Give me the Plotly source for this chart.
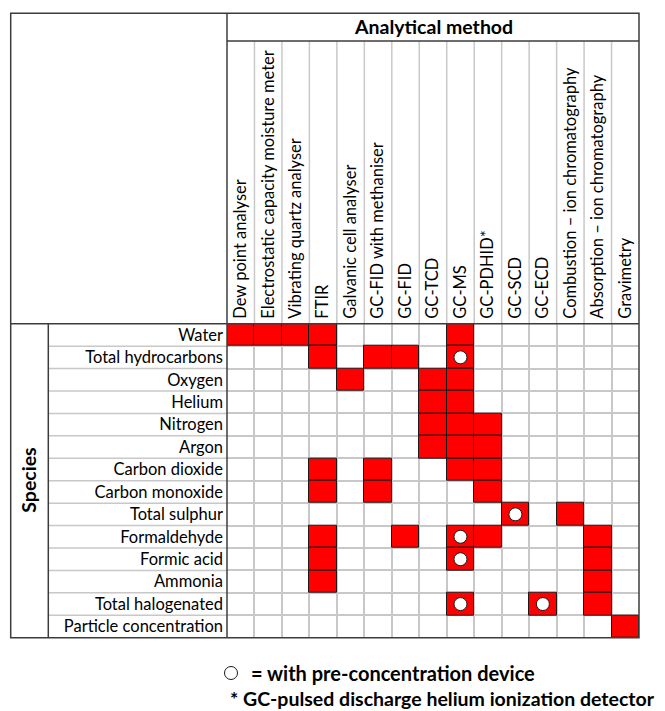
import plotly.graph_objects as go

# page body has an 8px margin; figure is sized so that it fills the window
OFF = 8
W, H = 665 - OFF, 711 - OFF

methods = [
    "Dew point analyser",
    "Electrostatic capacity moisture meter",
    "Vibrating quartz analyser",
    "FTIR",
    "Galvanic cell analyser",
    "GC-FID with methaniser",
    "GC-FID",
    "GC-TCD",
    "GC-MS",
    "GC-PDHID*",
    "GC-SCD",
    "GC-ECD",
    "Combustion \u2013 ion chromatography",
    "Absorption \u2013 ion chromatography",
    "Gravimetry",
]

species = [
    "Water",
    "Total hydrocarbons",
    "Oxygen",
    "Helium",
    "Nitrogen",
    "Argon",
    "Carbon dioxide",
    "Carbon monoxide",
    "Total sulphur",
    "Formaldehyde",
    "Formic acid",
    "Ammonia",
    "Total halogenated",
    "Particle concentration",
]

# applicable methods per species
applicable = {
    "Water": ["Dew point analyser", "Electrostatic capacity moisture meter",
              "Vibrating quartz analyser", "FTIR", "GC-MS"],
    "Total hydrocarbons": ["FTIR", "GC-FID with methaniser", "GC-FID", "GC-MS"],
    "Oxygen": ["Galvanic cell analyser", "GC-TCD", "GC-MS"],
    "Helium": ["GC-TCD", "GC-MS"],
    "Nitrogen": ["GC-TCD", "GC-MS", "GC-PDHID*"],
    "Argon": ["GC-TCD", "GC-MS", "GC-PDHID*"],
    "Carbon dioxide": ["FTIR", "GC-FID with methaniser", "GC-MS", "GC-PDHID*"],
    "Carbon monoxide": ["FTIR", "GC-FID with methaniser", "GC-PDHID*"],
    "Total sulphur": ["GC-SCD", "Combustion \u2013 ion chromatography"],
    "Formaldehyde": ["FTIR", "GC-FID", "GC-MS", "GC-PDHID*",
                     "Absorption \u2013 ion chromatography"],
    "Formic acid": ["FTIR", "GC-MS", "Absorption \u2013 ion chromatography"],
    "Ammonia": ["FTIR", "Absorption \u2013 ion chromatography"],
    "Total halogenated": ["GC-MS", "GC-ECD", "Absorption \u2013 ion chromatography"],
    "Particle concentration": ["Gravimetry"],
}

# cells needing a pre-concentration device (species, method)
preconc = [
    ("Total hydrocarbons", "GC-MS"),
    ("Total sulphur", "GC-SCD"),
    ("Formaldehyde", "GC-MS"),
    ("Formic acid", "GC-MS"),
    ("Total halogenated", "GC-MS"),
    ("Total halogenated", "GC-ECD"),
]

FONT = "Lato"
GRID = "#c8c8c8"
DARK = "#3c3c3c"
TICK_SIZE = 16.5
BOLD_SIZE = 19.5
NOTE_SIZE = 19.5


def px(x):
    return (x - OFF) / W


def py(y):
    return 1 - (y - OFF) / H


# table geometry (window pixels)
L, R, T, B = 10.7, 639, 13.3, 637.7
X_LAB, X_SPEC = 227, 48.3
Y_HEAD, Y_GRID = 41, 323.7

cell_x, cell_y = [], []
for s in species:
    for m in applicable[s]:
        cell_x.append(methods.index(m))
        cell_y.append(species.index(s))

circ_x = [methods.index(m) for s, m in preconc]
circ_y = [species.index(s) for s, m in preconc]

fig = go.Figure()
fig.add_trace(go.Bar(
    x=cell_x, y=[1] * len(cell_x), base=[v - 0.5 for v in cell_y], width=1,
    marker=dict(color="#ff0000", line=dict(color="#1a1a1a", width=1)),
    showlegend=False, hoverinfo="skip",
))
fig.add_trace(go.Scatter(
    x=circ_x, y=circ_y, mode="markers",
    marker=dict(symbol="circle", size=13, color="white",
                line=dict(color="#1a1a1a", width=1)),
    name="<b>= with pre-concentration device</b>", showlegend=True,
    hoverinfo="skip",
))

nM, nS = len(methods), len(species)
shapes = []
# extensions of column lines into the header
for i in range(1, nM):
    shapes.append(dict(type="line", xref="x", yref="paper", x0=i - 0.5, x1=i - 0.5,
                       y0=py(Y_GRID), y1=py(Y_HEAD), line=dict(color=GRID, width=1.5),
                       layer="below"))
# extensions of row lines into the label column
for j in range(1, nS):
    shapes.append(dict(type="line", xref="paper", yref="y", x0=px(X_SPEC), x1=px(X_LAB),
                       y0=j - 0.5, y1=j - 0.5, line=dict(color=GRID, width=1.5),
                       layer="below"))
dark = dict(color=DARK, width=1.5)
shapes += [
    dict(type="rect", xref="paper", yref="paper", x0=px(L), x1=px(R), y0=py(B), y1=py(T), line=dark),
    dict(type="line", xref="paper", yref="paper", x0=px(X_LAB), x1=px(X_LAB), y0=py(B), y1=py(T), line=dark),
    dict(type="line", xref="paper", yref="paper", x0=px(L), x1=px(R), y0=py(Y_GRID), y1=py(Y_GRID), line=dark),
    dict(type="line", xref="paper", yref="paper", x0=px(X_LAB), x1=px(R), y0=py(Y_HEAD), y1=py(Y_HEAD), line=dark),
    dict(type="line", xref="paper", yref="paper", x0=px(X_SPEC), x1=px(X_SPEC), y0=py(B), y1=py(Y_GRID), line=dark),
]

annotations = [
    dict(text="<b>Analytical method</b>", xref="paper", yref="paper",
         x=px((X_LAB + R) / 2), y=py(27), showarrow=False,
         font=dict(family=FONT, size=BOLD_SIZE, color="black"), xanchor="center", yanchor="middle"),
    dict(text="<b>Species</b>", xref="paper", yref="paper",
         x=px(29), y=py((Y_GRID + B) / 2), showarrow=False, textangle=-90,
         font=dict(family=FONT, size=BOLD_SIZE, color="black"), xanchor="center", yanchor="middle"),
    dict(text="<b>* GC-pulsed discharge helium ionization detector</b>", xref="paper", yref="paper",
         x=px(228), y=py(698), showarrow=False,
         font=dict(family=FONT, size=NOTE_SIZE, color="black"), xanchor="left", yanchor="middle"),
]

fig.update_layout(
    width=W, height=H, margin=dict(l=0, r=0, t=0, b=0),
    paper_bgcolor="white", plot_bgcolor="white",
    font=dict(family=FONT, color="black"),
    xaxis=dict(domain=[px(X_LAB), px(R)], range=[-0.5, nM - 0.5], side="top",
               tickvals=list(range(nM)), ticktext=methods, tickangle=-90,
               tickfont=dict(family=FONT, size=TICK_SIZE, color="black"),
               ticklabelstandoff=4,
               showgrid=False, zeroline=False, showline=False, ticks="",
               minor=dict(tickvals=[i - 0.5 for i in range(nM + 1)], showgrid=True,
                          gridcolor=GRID, gridwidth=1.5, ticks=""),
               fixedrange=True),
    yaxis=dict(domain=[py(B), py(Y_GRID)], range=[nS - 0.5, -0.5],
               tickvals=list(range(nS)), ticktext=species,
               tickfont=dict(family=FONT, size=TICK_SIZE, color="black"),
               ticklabelstandoff=3,
               showgrid=False, zeroline=False, showline=False, ticks="",
               minor=dict(tickvals=[j - 0.5 for j in range(nS + 1)], showgrid=True,
                          gridcolor=GRID, gridwidth=1.5, ticks=""),
               fixedrange=True),
    shapes=shapes, annotations=annotations,
    legend=dict(x=px(211), y=py(673), xanchor="left", yanchor="middle",
                font=dict(family=FONT, size=20, color="black"),
                bgcolor="rgba(0,0,0,0)", borderwidth=0),
    showlegend=True, bargap=0,
)

fig.write_html("out.html")
